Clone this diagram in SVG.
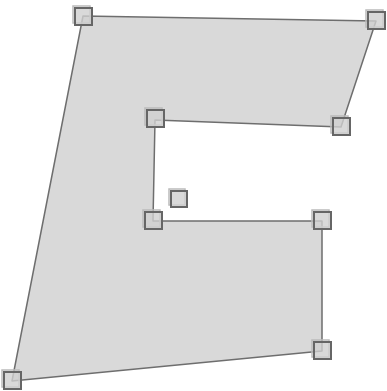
<svg xmlns="http://www.w3.org/2000/svg" width="387" height="391" viewBox="0 0 387 391">
<style>
.shape{fill:#d9d9d9;stroke:#6e6e6e;stroke-width:1.5;stroke-linejoin:round}
.h{fill:#cfcfcf;fill-opacity:0.8;stroke:#666;stroke-width:2}
.hs{fill:none;stroke:#bbb;stroke-width:1.5}
</style>
<rect width="387" height="391" fill="#fff"/>
<g id="connectors">
<polygon id="poly" class="shape" points="83,16 376,21 341,127 155,120 153,221 322,221 322,351 12,381"/>
</g>
<g id="handles">
<g id="h1"><rect class="hs" x="73" y="6" width="17" height="17"/><rect class="h" x="75" y="8" width="17" height="17"/></g>
<g id="h2"><rect class="hs" x="366" y="10" width="17" height="17"/><rect class="h" x="368" y="12" width="17" height="17"/></g>
<g id="h3"><rect class="hs" x="331" y="116" width="17" height="17"/><rect class="h" x="333" y="118" width="17" height="17"/></g>
<g id="h4"><rect class="hs" x="145" y="108" width="17" height="17"/><rect class="h" x="147" y="110" width="17" height="17"/></g>
<g id="h5"><rect class="hs" x="143" y="210" width="17" height="17"/><rect class="h" x="145" y="212" width="17" height="17"/></g>
<g id="h6"><rect class="hs" x="312" y="210" width="17" height="17"/><rect class="h" x="314" y="212" width="17" height="17"/></g>
<g id="h7"><rect class="hs" x="312" y="340" width="17" height="17"/><rect class="h" x="314" y="342" width="17" height="17"/></g>
<g id="h8"><rect class="hs" x="2" y="370" width="17" height="17"/><rect class="h" x="4" y="372" width="17" height="17"/></g>
<g id="center"><rect class="hs" x="169" y="189" width="16" height="16"/><rect class="h" x="171" y="191" width="16" height="16"/></g>
</g>
</svg>
